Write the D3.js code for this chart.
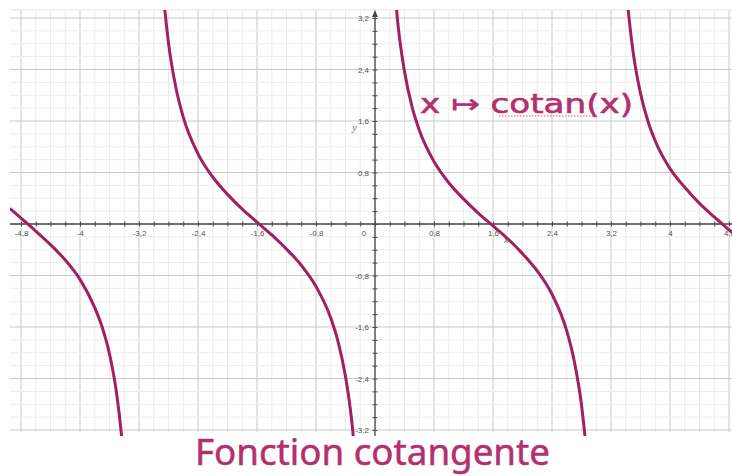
<!DOCTYPE html>
<html>
<head>
<meta charset="utf-8">
<script src="https://cdn.jsdelivr.net/npm/d3@7"></script>
<style>
  body { margin: 0; background: #fff; }
  svg { display: block; }
</style>
</head>
<body>
<div id="chart"></div>
<script>
// labelled ticks
const xLabels = [-4.8, -4, -3.2, -2.4, -1.6, -0.8, 0.8, 1.6, 2.4, 3.2, 4, 4.8];
const yLabels = [-3.2, -2.4, -1.6, -0.8, 0.8, 1.6, 2.4, 3.2];

// points read along each branch of the curve, [x, y]
const branchA = [[-4.94, 0.23], [-4.8, 0.09], [-4.6, -0.11], [-4.4, -0.32], [-4.2, -0.56], [-4, -0.86],
  [-3.8, -1.3], [-3.7, -1.6], [-3.6, -2.02], [-3.5, -2.66], [-3.44, -3.25], [-3.42, -3.5]];
const branchB = [[-2.86, 3.45], [-2.85, 3.33], [-2.8, 2.81], [-2.7, 2.12], [-2.6, 1.66], [-2.4, 1.09], [-2.2, 0.73],
  [-2, 0.46], [-1.8, 0.23], [-1.6, 0.03], [-1.4, -0.17], [-1.2, -0.39], [-1, -0.64], [-0.8, -0.97],
  [-0.6, -1.46], [-0.5, -1.83], [-0.4, -2.37], [-0.35, -2.74], [-0.3, -3.23], [-0.28, -3.5]];
const branchC = [[0.28, 3.5], [0.3, 3.23], [0.35, 2.74], [0.4, 2.37], [0.5, 1.83], [0.6, 1.46], [0.8, 0.97],
  [1, 0.64], [1.2, 0.39], [1.4, 0.17], [1.6, -0.03], [1.8, -0.23], [2, -0.46], [2.2, -0.73], [2.4, -1.09],
  [2.6, -1.66], [2.7, -2.12], [2.8, -2.81], [2.85, -3.33], [2.86, -3.45]];
const branchD = [[3.42, 3.5], [3.43, 3.37], [3.45, 3.14], [3.5, 2.67], [3.6, 2.03], [3.7, 1.6], [3.8, 1.29],
  [4, 0.86], [4.2, 0.57], [4.4, 0.32], [4.6, 0.11], [4.8, -0.09], [4.84, -0.13]];
const branches = [branchA, branchB, branchC, branchD];

const width = 732;
const height = 476;
const plot = {left: 10, right: 732, top: 10, bottom: 436};

const x = d3.scaleLinear().domain([-4.8, 4.8]).range([21, 729]);
const y = d3.scaleLinear().domain([-3.2, 3.2]).range([430, 18]);

const fr = d3.formatLocale({decimal: ',', thousands: ' ', grouping: [3], currency: ['', ''], minus: '-'});
const fmt = fr.format('~g');

const svg = d3.select('#chart').append('svg')
  .attr('width', width)
  .attr('height', height);

svg.append('clipPath').attr('id', 'clip')
  .append('rect')
    .attr('x', plot.left).attr('y', plot.top)
    .attr('width', plot.right - plot.left).attr('height', plot.bottom - plot.top);

// grid: minor every 0,2 and major every 0,8
const grid = svg.append('g');
const xMinor = x.ticks(48);
const yMinor = y.ticks(32);
const isMajor = v => Math.abs(v / 0.8 - Math.round(v / 0.8)) < 1e-6;

grid.selectAll('.vx').data(xMinor).enter().append('line')
  .attr('x1', d => x(d)).attr('x2', d => x(d))
  .attr('y1', plot.top).attr('y2', 432)
  .attr('stroke', d => isMajor(d) ? '#c9c9c9' : '#ececec')
  .attr('stroke-width', 1);

grid.selectAll('.hy').data(yMinor).enter().append('line')
  .attr('x1', plot.left).attr('x2', plot.right)
  .attr('y1', d => y(d)).attr('y2', d => y(d))
  .attr('stroke', d => isMajor(d) ? '#c9c9c9' : '#ececec')
  .attr('stroke-width', 1);

grid.append('line')
  .attr('x1', plot.left).attr('x2', plot.right)
  .attr('y1', plot.top).attr('y2', plot.top)
  .attr('stroke', '#e2e2e2');

// axes through the origin
const axisColor = '#4a4a4a';
const ax = svg.append('g').attr('color', axisColor);

ax.append('line')
  .attr('x1', plot.left).attr('x2', plot.right)
  .attr('y1', y(0)).attr('y2', y(0))
  .attr('stroke', axisColor).attr('stroke-width', 1.3);
ax.append('line')
  .attr('x1', x(0)).attr('x2', x(0))
  .attr('y1', 14).attr('y2', plot.bottom)
  .attr('stroke', axisColor).attr('stroke-width', 1.3);
ax.append('path')
  .attr('d', `M${x(0)},10L${x(0) - 3},17L${x(0) + 3},17Z`)
  .attr('fill', axisColor);

// small ticks crossing the axes
const tickMarks = (g, axis) => g.call(axis).call(g => g.select('.domain').remove());
ax.append('g').attr('transform', `translate(0,${y(0)})`)
  .call(g => tickMarks(g, d3.axisBottom(x).tickValues(xMinor).tickSize(2.5).tickFormat('')));
ax.append('g').attr('transform', `translate(0,${y(0)})`)
  .call(g => tickMarks(g, d3.axisTop(x).tickValues(xMinor).tickSize(2.5).tickFormat('')));
ax.append('g').attr('transform', `translate(${x(0)},0)`)
  .call(g => tickMarks(g, d3.axisLeft(y).tickValues(yMinor).tickSize(2.5).tickFormat('')));
ax.append('g').attr('transform', `translate(${x(0)},0)`)
  .call(g => tickMarks(g, d3.axisRight(y).tickValues(yMinor).tickSize(2.5).tickFormat('')));

// tick labels
ax.append('g').attr('transform', `translate(0,${y(0)})`)
  .call(d3.axisBottom(x).tickValues(xLabels).tickSize(0).tickPadding(6).tickFormat(fmt))
  .call(g => g.select('.domain').remove())
  .call(g => g.selectAll('text').attr('font-family', 'Liberation Sans').attr('font-size', 8).attr('fill', '#555'));

ax.append('g').attr('transform', `translate(${x(0) - 1},0)`)
  .call(d3.axisLeft(y).tickValues(yLabels).tickSize(0).tickPadding(5).tickFormat(fmt))
  .call(g => g.select('.domain').remove())
  .call(g => g.selectAll('text').attr('font-family', 'Liberation Sans').attr('font-size', 8).attr('fill', '#555'));

ax.append('text')
  .attr('x', x(0) - 11).attr('y', y(0) + 12)
  .attr('text-anchor', 'middle')
  .attr('font-family', 'Liberation Sans').attr('font-size', 8).attr('fill', '#555')
  .text('0');

ax.append('text')
  .attr('x', x(1.75)).attr('y', y(-0.3))
  .attr('font-family', 'Liberation Serif').attr('font-style', 'italic')
  .attr('font-size', 10).attr('fill', '#666')
  .text('x');
ax.append('text')
  .attr('x', x(-0.31)).attr('y', y(1.45))
  .attr('font-family', 'Liberation Serif').attr('font-style', 'italic')
  .attr('font-size', 10).attr('fill', '#666')
  .text('y');

// the curve
const line = d3.line()
  .x(d => x(d[0]))
  .y(d => y(d[1]))
  .curve(d3.curveMonotoneX);

svg.append('g')
  .attr('clip-path', 'url(#clip)')
  .selectAll('path').data(branches).enter().append('path')
    .attr('d', line)
    .attr('fill', 'none')
    .attr('stroke', '#a1205f')
    .attr('stroke-width', 3)
    .attr('stroke-linecap', 'round');

// handwritten labels
const ink = '#b3306f';
svg.append('text')
  .attr('x', 420).attr('y', 113)
  .attr('font-family', 'DejaVu Sans').attr('font-size', 26)
  .attr('textLength', 213).attr('lengthAdjust', 'spacingAndGlyphs')
  .attr('fill', ink).attr('stroke', ink).attr('stroke-width', 0.6)
  .text('x ↦ cotan(x)');

svg.append('line')
  .attr('x1', 499).attr('x2', 597)
  .attr('y1', 116).attr('y2', 116)
  .attr('stroke', '#e0506a').attr('stroke-width', 1.2)
  .attr('stroke-dasharray', '1.5,1.5');

svg.append('text')
  .attr('x', 195).attr('y', 465)
  .attr('font-family', 'Noto Sans').attr('font-size', 36)
  .attr('textLength', 355).attr('lengthAdjust', 'spacingAndGlyphs')
  .attr('fill', ink).attr('stroke', ink).attr('stroke-width', 0.5)
  .text('Fonction cotangente');
</script>
</body>
</html>
